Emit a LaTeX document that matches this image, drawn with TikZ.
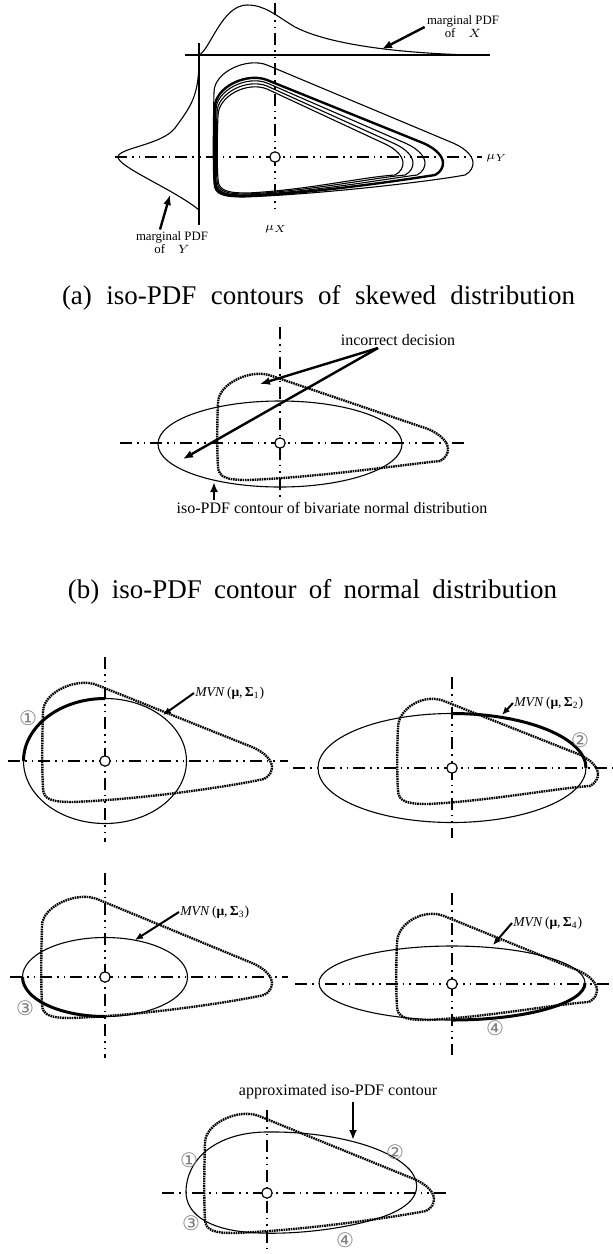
\documentclass[tikz,border=0pt]{standalone}
\usepackage{fontspec}
\setmainfont{Liberation Serif}
\newfontfamily\circfont{DejaVu Sans}
\usepackage{amsmath}
\usetikzlibrary{arrows.meta}
\tikzset{
  axisline/.style={line width=1pt,dash pattern=on 6pt off 2.5pt on 0.8pt off 2.5pt on 0.8pt off 2.5pt},
  meanpt/.style={circle,draw,fill=white,line width=0.6pt,inner sep=0pt,minimum size=5.2pt},
  cont/.style={line width=0.55pt},
  boldcont/.style={line width=1.2pt},
  dotcont/.style={line width=1.2pt,dash pattern=on 0.8pt off 0.4pt},
  boldarc/.style={line width=1.5pt},
  pointer/.style={-{Latex[length=5pt,width=4pt]},line width=1.2pt},
  minipointer/.style={-{Latex[length=4pt,width=3.4pt]},line width=1pt},
  tag/.style={font=\fontsize{8}{9.6}\selectfont,inner sep=1pt},
  margtag/.style={font=\fontsize{6.4}{6.6}\selectfont,align=center,inner sep=1pt},
  mvntag/.style={font=\fontsize{6.8}{8}\selectfont,inner sep=0.5pt,anchor=west},
  meanlab/.style={font=\fontsize{6.5}{7}\selectfont,inner sep=0pt},
  circnum/.style={font=\circfont\fontsize{10}{10}\selectfont,text=black!50,inner sep=0pt},
  caption/.style={font=\fontsize{13.5}{15}\selectfont,inner sep=0pt},
}
% skewed iso-PDF contour around the mean: left, top, tip, bottom
\newcommand{\skewcont}[4]{({#3},6) .. controls ({#3},0) and ({#3-6},-8) .. ({#3-20},-14)
  -- (-8,{#2+3}) .. controls (-28,{#2-5}) and ({#1},{#2+10}) .. ({#1},{#2+30})
  .. controls ({#1-1},-20) and ({#1-1},10) .. ({#1},{#4-14})
  .. controls ({#1},{#4-2}) and ({#1+10},{#4}) .. ({#1+30},{#4})
  .. controls ({0.25*#3},{#4-3}) and ({#3-40},{#4-16}) .. ({#3-8},18)
  .. controls ({#3-2},15) and ({#3},10) .. ({#3},6) -- cycle}

\begin{document}
\begin{tikzpicture}[x=0.5pt,y=-0.5pt]
\useasboundingbox (0,0) rectangle (613,1254);
% (a) marginal PDFs
\draw[cont] (185,55) -- (490,55);
\draw[cont] (199,43) -- (199,225);
\draw[cont] (199,55) .. controls (210,50) and (222,5) .. (247,5) .. controls (265,5) and (275,15) .. (295,27) .. controls (330,45) and (400,53) .. (470,55);
\draw[cont] (199,58) .. controls (199,95) and (192,105) .. (175,128) .. controls (162,145) and (118,148) .. (118,157) .. controls (118,167) and (175,190) .. (199,210);
% (a) contours
\draw[axisline] (115,157) -- (482,157);
\draw[axisline] (275,3) -- (275,213);
\begin{scope}[shift={(275,157)}]
\draw[cont] \skewcont{-61}{-95}{198}{40};
\draw[boldcont] \skewcont{-60}{-80}{168}{39};
\draw[cont] \skewcont{-59}{-77}{150}{38};
\draw[cont] \skewcont{-58}{-74}{138}{37};
\draw[cont] \skewcont{-57}{-71}{128}{36};
\end{scope}
\node[meanpt] (mua) at (275,157) {};
\node[meanlab,anchor=west] (muy) at (486,158) {$\mu_Y$};
\node[meanlab] (mux) at (276,229) {$\mu_X$};
\node[margtag] (mxlab) at (463,27) {marginal PDF\\of\quad$X$};
\node[margtag] (mylab) at (172,243) {marginal PDF\\of\quad$Y$};
\coordinate (mxtip) at (382,49);
\coordinate (mytip) at (170,195);
\draw[pointer] (mxlab.west) -- (mxtip);
\draw[pointer] ([xshift=-6pt]mylab.north) -- (mytip);
\node[caption] (capa) at (318.5,298) {\makebox[256.5pt][s]{(a) iso-PDF contours of skewed distribution}};

% (b) normal fit
\draw[axisline] (120,443) -- (467,443);
\draw[axisline] (280,327) -- (280,497);
\draw[cont] (280,444) ellipse[x radius=122,y radius=43];
\begin{scope}[shift={(280,443)}]
\draw[dotcont] \skewcont{-62}{-70}{168}{37};
\end{scope}
\node[meanpt] (mub) at (280,443) {};
\node[tag] (incdec) at (398,340) {incorrect decision};
\coordinate (wrongA) at (260,384);
\coordinate (wrongB) at (183,459);
\draw[pointer] ([xshift=-10pt]incdec.south) -- (wrongA);
\draw[pointer] ([xshift=-10pt]incdec.south) -- (wrongB);
\node[tag] (bvlab) at (332,508) {iso-PDF contour of bivariate normal distribution};
\coordinate (bvtip) at (214,482);
\draw[pointer] (bvlab.north -| bvtip) -- (bvtip);
\node[caption] (capb) at (312.5,592) {\makebox[244.5pt][s]{(b) iso-PDF contour of normal distribution}};

% (c) four normal fits
\draw[axisline] (8,761) -- (288,761);
\draw[axisline] (105,657) -- (105,842);
\draw[cont] (105,761) ellipse[x radius=81.5,y radius=62.5];
\draw[boldarc] (23.5,761) arc[start angle=180,end angle=270,x radius=81.5,y radius=62.5];
\begin{scope}[shift={(105,761)}]
\draw[dotcont] \skewcont{-62}{-79}{167}{41};
\end{scope}
\node[meanpt] (muc1) at (105,761) {};
\node[circnum] (num1) at (28,718) {①};
\node[mvntag] (mvn1) at (194,693) {\textit{MVN}\,(\textbf{μ},\,\textbf{Σ}\textsubscript{1})};
\coordinate (mvn1tip) at (163,715);
\draw[minipointer] (mvn1.west) -- (mvn1tip);

\draw[axisline] (293,768) -- (613,768);
\draw[axisline] (452,677) -- (452,838);
\draw[cont] (452,768) ellipse[x radius=134,y radius=54.5];
\draw[boldarc] (452,713.5) arc[start angle=270,end angle=360,x radius=134,y radius=54.5];
\begin{scope}[shift={(452,768)}]
\draw[dotcont] \skewcont{-54}{-70}{146}{36};
\end{scope}
\node[meanpt] (muc2) at (452,768) {};
\node[circnum] (num2) at (580,740) {②};
\node[mvntag] (mvn2) at (513,703) {\textit{MVN}\,(\textbf{μ},\,\textbf{Σ}\textsubscript{2})};
\coordinate (mvn2tip) at (502,715);
\draw[minipointer] (mvn2.west) -- (mvn2tip);

\draw[axisline] (10,977) -- (288,977);
\draw[axisline] (105,873) -- (105,1058);
\draw[cont] (105,977) ellipse[x radius=82.5,y radius=39.5];
\draw[boldarc] (22.5,977) arc[start angle=180,end angle=90,x radius=82.5,y radius=39.5];
\begin{scope}[shift={(105,977)}]
\draw[dotcont] \skewcont{-63}{-81}{167}{41};
\end{scope}
\node[meanpt] (muc3) at (105,977) {};
\node[circnum] (num3) at (25,1008) {③};
\node[mvntag] (mvn3) at (179,912) {\textit{MVN}\,(\textbf{μ},\,\textbf{Σ}\textsubscript{3})};
\coordinate (mvn3tip) at (135,940);
\draw[minipointer] (mvn3.west) -- (mvn3tip);

\draw[axisline] (295,984) -- (613,984);
\draw[axisline] (452,893) -- (452,1055);
\draw[cont] (452,983) ellipse[x radius=133,y radius=37];
\draw[boldarc] (585,983) arc[start angle=0,end angle=90,x radius=133,y radius=37];
\begin{scope}[shift={(452,984)}]
\draw[dotcont] \skewcont{-55}{-71}{145}{36};
\end{scope}
\node[meanpt] (muc4) at (452,984) {};
\node[circnum] (num4) at (495,1028) {④};
\node[mvntag] (mvn4) at (512,923) {\textit{MVN}\,(\textbf{μ},\,\textbf{Σ}\textsubscript{4})};
\coordinate (mvn4tip) at (493,945);
\draw[minipointer] (mvn4.west) -- (mvn4tip);

% combined contour
\draw[axisline] (162,1193) -- (448,1193);
\draw[axisline] (267,1110) -- (267,1253);
\draw[cont] (186,1192) .. controls (186,1160) and (215,1133) .. (265,1132) .. controls (320,1131) and (385,1143) .. (410,1170) .. controls (422,1185) and (420,1203) .. (385,1216) .. controls (345,1230) and (285,1236) .. (245,1232) .. controls (205,1228) and (186,1212) .. (186,1192) -- cycle;
\begin{scope}[shift={(267,1193)}]
\draw[dotcont] \skewcont{-62}{-80}{167}{40};
\end{scope}
\node[meanpt] (mud) at (267,1193) {};
\node[tag] (aplab) at (338,1092) {approximated iso-PDF contour};
\coordinate (aptip) at (353,1140);
\draw[pointer] (aplab.south -| aptip) -- (aptip);
\node[circnum] (numd1) at (189,1160) {①};
\node[circnum] (numd2) at (395,1152) {②};
\node[circnum] (numd3) at (191,1223) {③};
\node[circnum] (numd4) at (345,1240) {④};
\end{tikzpicture}
\end{document}
